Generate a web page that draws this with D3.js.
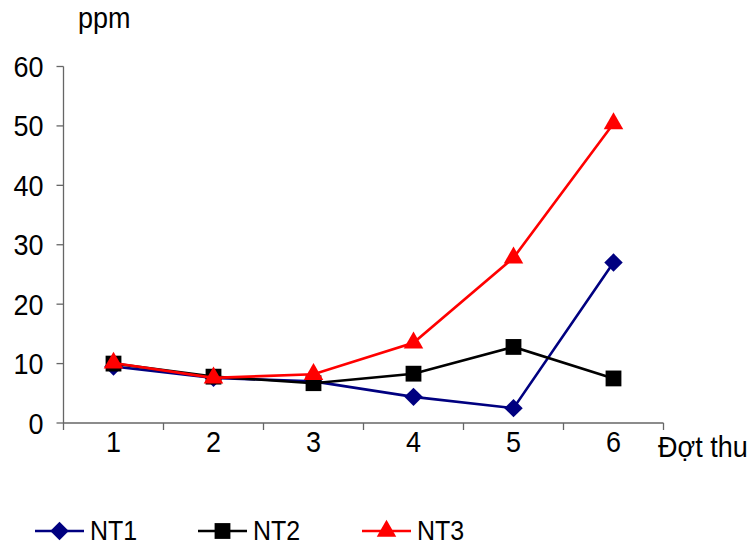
<!DOCTYPE html>
<html>
<head>
<meta charset="utf-8">
<script src="https://cdn.jsdelivr.net/npm/d3@7"></script>
<style>
  body { margin: 0; background: #fff; }
  svg text { font-family: "Liberation Sans", Arial, sans-serif; fill: #000; }
</style>
</head>
<body>
<div id="chart"></div>
<script>
const width = 755;
const height = 546;

// Données
const categories = ["1", "2", "3", "4", "5", "6"];
const nt1 = [9.5, 7.6, 7.0, 4.4, 2.5, 27.0];
const nt2 = [10.0, 7.8, 6.7, 8.3, 12.8, 7.5];
const nt3 = [10.1, 7.6, 8.2, 13.5, 27.8, 50.4];
const yTicks = [0, 10, 20, 30, 40, 50, 60];

const series = [
  { name: "NT1", values: nt1, color: "#000080", symbol: d3.symbolSquare, size: 170, rotate: 45 },
  { name: "NT2", values: nt2, color: "#000000", symbol: d3.symbolSquare, size: 250, rotate: 0 },
  { name: "NT3", values: nt3, color: "#ff0000", symbol: d3.symbolTriangle, size: 165, rotate: 0 }
];

const svg = d3.select("#chart")
  .append("svg")
  .attr("width", width)
  .attr("height", height);

// Texte légèrement étiré verticalement comme dans l'original
const fs = 27, sy = 1.12;
function label(parent, x0, y0, txt, anchor, size) {
  return parent.append("text")
    .attr("transform", `translate(${x0},${y0}) scale(1,${sy})`)
    .attr("text-anchor", anchor || "start")
    .style("font-size", (size || fs) + "px")
    .text(txt);
}

// Échelles
const x = d3.scaleBand().domain(categories).range([63.5, 663.5]);
const y = d3.scaleLinear().domain([0, 60]).range([423, 66.5]);

const axisColor = "#666";

// Axe Y
const yAxis = svg.append("g").attr("transform", "translate(63.5,0)");
yAxis.append("line")
  .attr("y1", y(0)).attr("y2", y(60))
  .attr("stroke", axisColor).attr("stroke-width", 1.3);
yAxis.selectAll(".ytick")
  .data(yTicks)
  .join("line")
  .attr("class", "ytick")
  .attr("x1", -7).attr("x2", 0)
  .attr("y1", d => y(d)).attr("y2", d => y(d))
  .attr("stroke", axisColor).attr("stroke-width", 1.3);
yTicks.forEach(t => label(yAxis, -20, y(t) + 10.5, t, "end"));

// Axe X (graduations entre les catégories)
const xAxis = svg.append("g").attr("transform", "translate(0,423)");
xAxis.append("line")
  .attr("x1", x.range()[0]).attr("x2", x.range()[1])
  .attr("stroke", axisColor).attr("stroke-width", 1.3);
xAxis.selectAll(".xtick")
  .data(categories.concat(["end"]))
  .join("line")
  .attr("class", "xtick")
  .attr("x1", (d, i) => x.range()[0] + i * x.step())
  .attr("x2", (d, i) => x.range()[0] + i * x.step())
  .attr("y1", 0).attr("y2", 7)
  .attr("stroke", axisColor).attr("stroke-width", 1.3);
categories.forEach(c => label(xAxis, x(c) + x.bandwidth() / 2, 29, c, "middle"));

// Titres des axes
label(svg, 78, 28, "ppm");
label(svg, 658, 457, "Đợt thu");

// Lignes et marqueurs
const line = d3.line()
  .x((d, i) => x(categories[i]) + x.bandwidth() / 2)
  .y(d => y(d));

series.forEach(s => {
  const g = svg.append("g");
  g.append("path")
    .attr("d", line(s.values))
    .attr("fill", "none")
    .attr("stroke", s.color)
    .attr("stroke-width", 2.6);
  g.selectAll("path.mark")
    .data(s.values)
    .join("path")
    .attr("class", "mark")
    .attr("d", d3.symbol().type(s.symbol).size(s.size))
    .attr("transform", (d, i) =>
      `translate(${x(categories[i]) + x.bandwidth() / 2},${y(d)}) rotate(${s.rotate})`)
    .attr("fill", s.color);
});

// Légende
const legendX = [35, 198, 362];
const legend = svg.append("g").attr("transform", "translate(0,531)");
series.forEach((s, i) => {
  const g = legend.append("g").attr("transform", `translate(${legendX[i]},0)`);
  g.append("line")
    .attr("x1", 0).attr("x2", 49)
    .attr("stroke", s.color).attr("stroke-width", 2.6);
  g.append("path")
    .attr("d", d3.symbol().type(s.symbol).size(s.size))
    .attr("transform", `translate(24.5,0) rotate(${s.rotate})`)
    .attr("fill", s.color);
  label(g, 55, 8.5, s.name, "start", 25);
});
</script>
</body>
</html>
